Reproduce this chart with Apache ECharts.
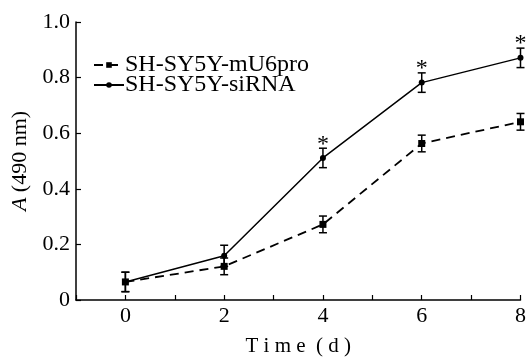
<!DOCTYPE html>
<html><head><meta charset="utf-8">
<script src="https://cdn.jsdelivr.net/npm/echarts@6/dist/echarts.min.js"></script>
<style>html,body{margin:0;padding:0;background:#fff}#c{width:529px;height:362px}</style>
</head><body><div id="c"></div>
<script>
const days = [0, 2, 4, 6, 8];
const seriesNames = ['SH-SY5Y-mU6pro', 'SH-SY5Y-siRNA'];
const mU6proMean = [0.065, 0.121, 0.272, 0.563, 0.641];
const mU6proErr = [0.035, 0.03, 0.03, 0.03, 0.03];
const siRNAMean = [0.065, 0.159, 0.511, 0.782, 0.871];
const siRNAErr = [0.035, 0.038, 0.035, 0.035, 0.035];
const siRNAStar = ['', '', '*', '*', '*'];
const yTicks = [0, 0.2, 0.4, 0.6, 0.8, 1.0];

const font = '"Liberation Serif", "Times New Roman", serif';
const chart = echarts.init(document.getElementById('c'));

function errData(mean, err, star) {
  return days.map((d, i) => [d, mean[i] - err[i], mean[i] + err[i], star ? star[i] : '']);
}
function errRender(params, api) {
  const x = api.value(0);
  const lo = api.coord([x, api.value(1)]);
  const hi = api.coord([x, api.value(2)]);
  const w = 4;
  const children = [
    {type: 'line', shape: {x1: lo[0], y1: lo[1], x2: hi[0], y2: hi[1]}, style: {stroke: '#000', lineWidth: 1.5}},
    {type: 'line', shape: {x1: lo[0]-w, y1: lo[1], x2: lo[0]+w, y2: lo[1]}, style: {stroke: '#000', lineWidth: 1.5}},
    {type: 'line', shape: {x1: hi[0]-w, y1: hi[1], x2: hi[0]+w, y2: hi[1]}, style: {stroke: '#000', lineWidth: 1.5}}
  ];
  const s = api.value(3);
  if (s) {
    children.push({type: 'text', style: {text: s, x: hi[0], y: hi[1] + 8, align: 'center', verticalAlign: 'bottom', font: '24px ' + font, fill: '#000'}});
  }
  return {type: 'group', children};
}

chart.setOption({
  animation: false,
  backgroundColor: '#fff',
  grid: {left: 76, right: 8, top: 22, bottom: 51, containLabel: false},
  legend: {
    left: 88, top: 48, orient: 'vertical', itemGap: -4, itemWidth: 30, itemHeight: 7,
    textStyle: {fontFamily: font, fontSize: 24, color: '#000', padding: [0,0,0,-4]},
    data: seriesNames
  },
  xAxis: {
    type: 'value', min: -1, max: 8, interval: 1,
    axisLine: {lineStyle: {color: '#000', width: 1.5}},
    axisTick: {inside: true, length: 5, lineStyle: {color: '#000', width: 1.2}},
    axisLabel: {fontFamily: font, fontSize: 22, color: '#000', margin: 5,
      formatter: v => (v >= 0 && v % 2 === 0) ? String(v) : ''},
    splitLine: {show: false},
    name: 'T i m e  ( d )', nameLocation: 'middle', nameGap: 36,
    nameTextStyle: {fontFamily: font, fontSize: 21, color: '#000'}
  },
  yAxis: {
    type: 'value', min: 0, max: 1, interval: 0.2,
    axisLine: {show: true, onZero: false, lineStyle: {color: '#000', width: 1.5}},
    axisTick: {show: true, inside: true, length: 5, lineStyle: {color: '#000', width: 1.2}},
    axisLabel: {fontFamily: font, fontSize: 22, color: '#000', margin: 6,
      formatter: v => { const t = yTicks.find(k => Math.abs(k - v) < 1e-9); return t === 0 ? '0' : t.toFixed(1); }},
    splitLine: {show: false},
    name: '{i|A} (490 nm)', nameLocation: 'middle', nameGap: 42, nameRotate: 90,
    nameTextStyle: {fontFamily: font, fontSize: 22, color: '#000',
      rich: {i: {fontFamily: font, fontSize: 22, fontStyle: 'italic', color: '#000'}}}
  },
  series: [
    {
      name: seriesNames[0], type: 'line',
      data: days.map((d, i) => [d, mU6proMean[i]]),
      symbol: 'rect', symbolSize: 7,
      itemStyle: {color: '#000'},
      lineStyle: {color: '#000', width: 1.8, type: [9, 6]},
      z: 3
    },
    {
      name: seriesNames[1], type: 'line',
      data: days.map((d, i) => [d, siRNAMean[i]]),
      symbol: 'circle', symbolSize: 6,
      itemStyle: {color: '#000'},
      lineStyle: {color: '#000', width: 1.5, type: 'solid'},
      z: 3
    },
    {type: 'custom', renderItem: errRender, data: errData(mU6proMean, mU6proErr), encode: {x: 0, y: [1, 2]}, z: 4, silent: true},
    {type: 'custom', renderItem: errRender, data: errData(siRNAMean, siRNAErr, siRNAStar), encode: {x: 0, y: [1, 2]}, z: 4, silent: true}
  ]
});
</script></body></html>
